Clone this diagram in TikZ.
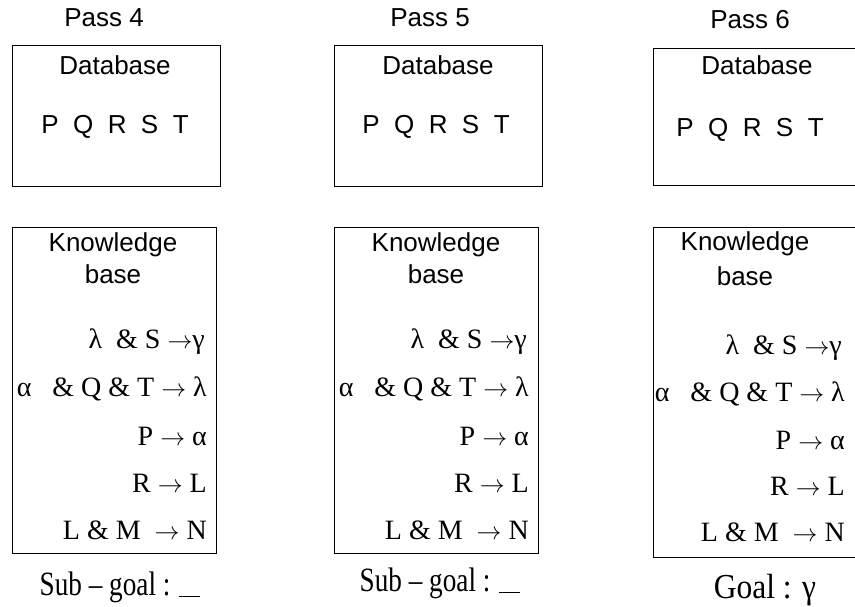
\documentclass[tikz,border=0pt]{standalone}
\usepackage{graphicx}
\usepackage{fontspec}
\setmainfont{Liberation Serif}
\newfontfamily\arial{Liberation Sans}
\newcommand{\rarr}{$\rightarrow$}
\begin{document}
\begin{tikzpicture}[x=1pt,y=-1pt,
  box/.style={draw=black, line width=1pt, inner sep=0pt, anchor=north west},
  sans/.style={font=\arial\fontsize{26}{30}\selectfont, inner sep=0pt},
  rulex/.style={font=\fontsize{28}{30}\selectfont, anchor=east, inner sep=0pt},
  goal/.style={font=\fontsize{34}{38}\selectfont, inner sep=0pt}]
\clip (0,0) rectangle (855,607);
% ---------- Pass 4 ----------
\node[sans] (p4) at (104,18) {Pass 4};
\node[box, minimum width=208pt, minimum height=141pt] (db1) at (12,45) {};
\node[sans] (db1t) at (115,65) {Database};
\node[sans] (db1f) at (115,127) {P~~Q~~R~~S~~T};
\node[box, minimum width=204pt, minimum height=326pt] (kb1) at (12,227) {};
\node[sans] (kb1t) at (113,245) {Knowledge};
\node[sans] (kb1b) at (113,274) {base};
\node[rulex] (r11) at (205,342) {λ ~\& S \rarr γ};
\node[rulex] (r12) at (207,389) {α ~~\& Q \& T \rarr{} λ};
\node[rulex] (r13) at (207,436) {P \rarr{} α};
\node[rulex] (r14) at (207,483) {R \rarr{} L};
\node[rulex] (r15) at (207,530) {L \& M ~\rarr{} N};
\node[goal] (g1) at (120,587) {\scalebox{0.8}[1]{Sub – goal : \rule[-2pt]{26pt}{1.4pt}}};
% ---------- Pass 5 ----------
\node[sans] (p5) at (430,18) {Pass 5};
\node[box, minimum width=208pt, minimum height=141pt] (db2) at (334,45) {};
\node[sans] (db2t) at (438,65) {Database};
\node[sans] (db2f) at (436,127) {P~~Q~~R~~S~~T};
\node[box, minimum width=204pt, minimum height=326pt] (kb2) at (334,227) {};
\node[sans] (kb2t) at (436,245) {Knowledge};
\node[sans] (kb2b) at (436,274) {base};
\node[rulex] (r21) at (527,342) {λ ~\& S \rarr γ};
\node[rulex] (r22) at (529,389) {α ~~\& Q \& T \rarr{} λ};
\node[rulex] (r23) at (529,436) {P \rarr{} α};
\node[rulex] (r24) at (529,483) {R \rarr{} L};
\node[rulex] (r25) at (529,530) {L \& M ~\rarr{} N};
\node[goal] (g2) at (440,583) {\scalebox{0.8}[1]{Sub – goal : \rule[-2pt]{26pt}{1.4pt}}};
% ---------- Pass 6 ----------
\node[sans] (p6) at (750,20) {Pass 6};
\node[box, minimum width=210pt, minimum height=137pt] (db3) at (653,48) {};
\node[sans] (db3t) at (757,65) {Database};
\node[sans] (db3f) at (750,130) {P~~Q~~R~~S~~T};
\node[box, minimum width=210pt, minimum height=330pt] (kb3) at (653,227) {};
\node[sans] (kb3t) at (745,244) {Knowledge};
\node[sans] (kb3b) at (745,276) {base};
\node[rulex] (r31) at (842,348) {λ ~\& S \rarr γ};
\node[rulex] (r32) at (845,394) {α ~~\& Q \& T \rarr{} λ};
\node[rulex] (r33) at (845,440) {P \rarr{} α};
\node[rulex] (r34) at (845,486) {R \rarr{} L};
\node[rulex] (r35) at (845,532) {L \& M ~\rarr{} N};
\node[goal, font=\fontsize{35}{38}\selectfont] (g3) at (765,590) {\scalebox{0.9}[1]{Goal : γ}};
\end{tikzpicture}
\end{document}
